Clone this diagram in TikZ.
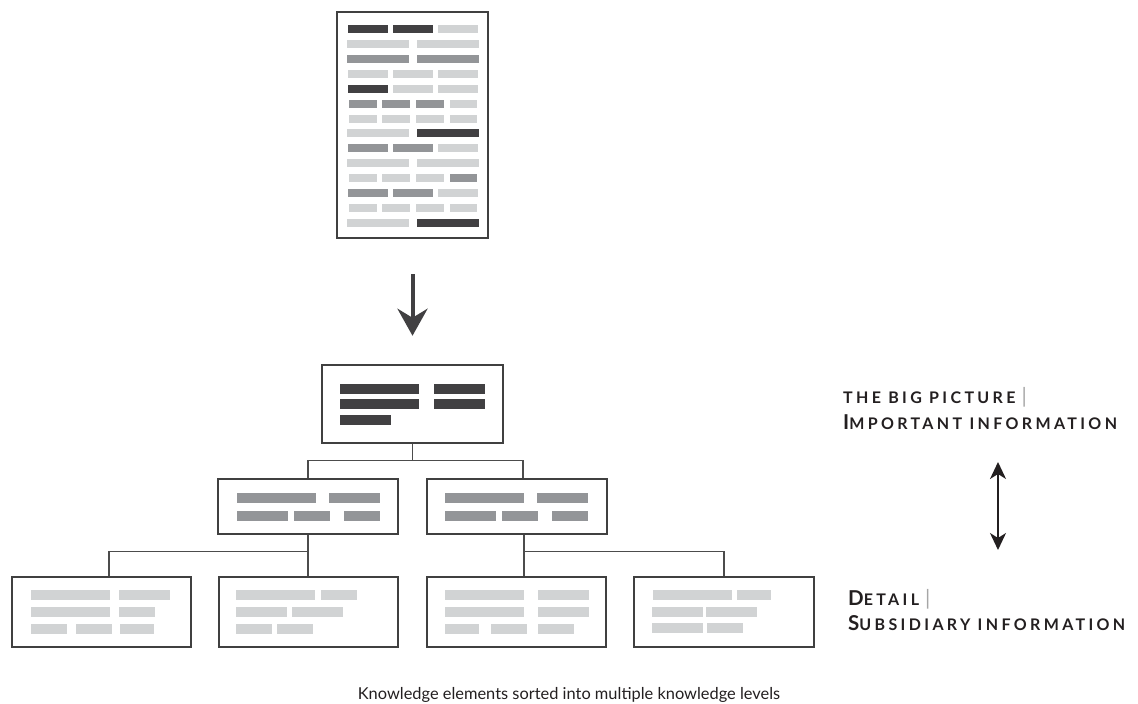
\documentclass[tikz,border=0pt]{standalone}
\usepackage{fontspec}
\setmainfont{Lato}
\newfontfamily\lblfont[LetterSpace=21]{Lato}
\usetikzlibrary{arrows.meta,calc,positioning}
\definecolor{dk}{HTML}{414042}
\definecolor{md}{HTML}{939598}
\definecolor{lt}{HTML}{D1D3D4}
\definecolor{ink}{HTML}{231F20}
% one grey bar, centred on y
\newcommand{\kbar}[4]{\fill[#1] (#2,#4-\kh) rectangle (#3,#4+\kh);}
% rows of the page at the top
\newcommand{\rowB}[3]{\kbar{#2}{347}{409}{#1}\kbar{#3}{417}{479}{#1}}
\newcommand{\rowC}[4]{\kbar{#2}{348}{388}{#1}\kbar{#3}{393}{433}{#1}\kbar{#4}{438}{478}{#1}}
\newcommand{\rowD}[5]{\kbar{#2}{349}{377}{#1}\kbar{#3}{382}{410}{#1}\kbar{#4}{416}{444}{#1}\kbar{#5}{450}{477}{#1}}
\newcommand{\kL}[1]{{\fontsize{20.5}{21}\selectfont #1}}
\newcommand{\kS}[1]{{\fontsize{16}{17}\selectfont #1}}
\newcommand{\ksep}{\hspace{6pt}{\color{black!35}\mdseries\fontsize{21}{21}\selectfont |}}

\begin{document}
\begin{tikzpicture}[x=1pt,y=-1pt,
box/.style={draw=black!75,line width=2.5pt,fill=white,inner sep=0pt},
conn/.style={draw=black!70,line width=1.4pt},
lbl/.style={anchor=base west,inner sep=0pt,text=ink,font=\lblfont\bfseries}]
\useasboundingbox (0,0) rectangle (1138,704);
\node[box,minimum width=151pt,minimum height=226pt] (Doc) at (412.5,125) {};
\node[box,minimum width=181pt,minimum height=78pt] (Top) at (412.5,404) {};
\node[box,minimum width=180pt,minimum height=55pt] (MidL) at (308,506.5) {};
\node[box,minimum width=180pt,minimum height=55pt] (MidR) at (517,506.5) {};
\node[box,minimum width=179pt,minimum height=70pt] (Low1) at (101.5,612) {};
\node[box,minimum width=179pt,minimum height=70pt] (Low2) at (308.5,612) {};
\node[box,minimum width=179pt,minimum height=70pt] (Low3) at (516.5,612) {};
\node[box,minimum width=180pt,minimum height=70pt] (Low4) at (724,612) {};

% the page
\def\kh{4}
\rowC{29}{dk}{dk}{lt}
\rowB{44}{lt}{lt}
\rowB{59}{md}{md}
\rowC{74}{lt}{lt}{lt}
\rowC{89}{dk}{lt}{lt}
\rowD{103.5}{md}{md}{md}{lt}
\rowD{118.5}{lt}{lt}{lt}{lt}
\rowB{133}{lt}{dk}
\rowC{148}{md}{md}{lt}
\rowB{163}{lt}{lt}
\rowD{178}{lt}{lt}{lt}{md}
\rowC{193}{md}{md}{lt}
\rowD{208}{lt}{lt}{lt}{lt}
\rowB{223}{lt}{dk}

% the levels
\def\kh{5}
\kbar{dk}{340}{419}{389}\kbar{dk}{434}{485}{389}
\kbar{dk}{340}{419}{404}\kbar{dk}{434}{485}{404}
\kbar{dk}{340}{391}{420}
\kbar{md}{237}{316}{498}\kbar{md}{329}{380}{498}
\kbar{md}{237}{288}{516}\kbar{md}{294}{330}{516}\kbar{md}{344}{380}{516}
\kbar{md}{445}{524}{498}\kbar{md}{537}{588}{498}
\kbar{md}{445}{496}{516}\kbar{md}{502}{538}{516}\kbar{md}{552}{588}{516}
\kbar{lt}{31}{110}{595}\kbar{lt}{119}{170}{595}
\kbar{lt}{31}{110}{612}\kbar{lt}{119}{155}{612}
\kbar{lt}{31}{67}{629}\kbar{lt}{76}{112}{629}\kbar{lt}{120}{154}{629}
\kbar{lt}{236}{315}{595}\kbar{lt}{321}{357}{595}
\kbar{lt}{236}{287}{612}\kbar{lt}{292}{343}{612}
\kbar{lt}{236}{272}{629}\kbar{lt}{277}{313}{629}
\kbar{lt}{445}{524}{595}\kbar{lt}{538}{589}{595}
\kbar{lt}{445}{524}{612}\kbar{lt}{538}{589}{612}
\kbar{lt}{445}{479}{629}\kbar{lt}{491}{527}{629}\kbar{lt}{538}{574}{629}
\kbar{lt}{653}{732}{595}\kbar{lt}{737}{771}{595}
\kbar{lt}{652}{703}{612}\kbar{lt}{706}{757}{612}
\kbar{lt}{652}{703}{628}\kbar{lt}{707}{743}{628}

% connectors
\draw[line width=4pt,dk,-{Stealth[length=27pt,width=30pt,inset=9pt]},
  shorten <=35pt,shorten >=28pt] (Doc.south) -- (Top.north);
\draw[conn] (MidL.north) -- ++(0,-17) -| (Top.south);
\draw[conn] ([xshift=6pt]MidR.north) -- ++(0,-17) -| (Top.south);
\draw[conn] (MidL.south) -- (MidL.south |- Low2.north);
\draw[conn] ([xshift=7.5pt]Low1.north) -- ++(0,-24) -| (MidL.south);
\draw[conn] ([xshift=7pt]MidR.south) -- ([xshift=7pt]MidR.south |- Low3.north);
\draw[conn] (Low4.north) -- ++(0,-24) -| ([xshift=7pt]MidR.south);

% labels
\node[lbl] (BigA) at (843,403) {\kS{THE BIG PICTURE}\ksep};
\node[lbl] (BigB) at (843,429) {\kL{I}\kS{MPORTANT INFORMATION}};
\node[lbl] (DetA) at (848,605) {\kL{D}\kS{ETAIL}\ksep};
\node[lbl] (DetB) at (848,630) {\kL{S}\kS{UBSIDIARY INFORMATION}};
\coordinate (LvTop) at (998,462);
\coordinate (LvBot) at (998,550);
\draw[line width=1.8pt,ink,{Stealth[length=17pt,width=16pt,inset=5pt]}-{Stealth[length=17pt,width=16pt,inset=5pt]}]
  (LvTop) -- (LvBot);
\node[anchor=base,inner sep=0pt,text=ink,font=\fontsize{16.4}{20}\selectfont] (Cap) at (569,699)
  {Knowledge elements sorted into multiple knowledge levels};
\end{tikzpicture}
\end{document}
